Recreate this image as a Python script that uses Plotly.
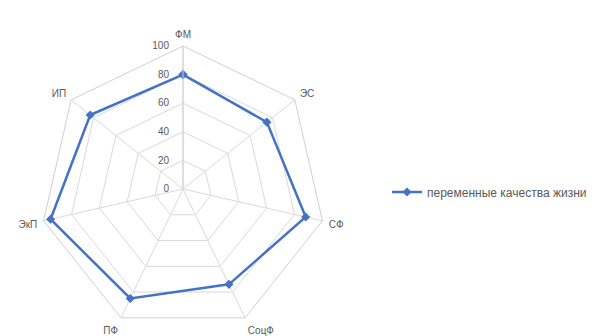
import plotly.graph_objects as go

# Quality-of-life variables and their scores
categories = ["ФМ", "ЭС", "СФ", "СоцФ", "ПФ", "ЭкП", "ИП"]
values = [80, 75, 88, 74, 85, 95, 83]
series_name = "переменные качества жизни"
radial_ticks = [0, 20, 40, 60, 80, 100]

# close the polygon by repeating the first point
theta = categories + categories[:1]
r = values + values[:1]

fig = go.Figure()
fig.add_trace(go.Scatterpolar(
    r=r,
    theta=theta,
    mode="lines+markers",
    name=series_name,
    line=dict(color="#4472C4", width=2.5),
    marker=dict(symbol="diamond", size=7, color="#4472C4"),
    showlegend=True,
))

W, H = 596, 336
fig.update_layout(
    width=W, height=H,
    margin=dict(l=0, r=0, t=0, b=0),
    paper_bgcolor="white",
    plot_bgcolor="white",
    font=dict(family="Liberation Sans, Arial, sans-serif", size=9, color="#595959"),
    polar=dict(
        domain=dict(x=[40 / W, 326 / W], y=[4 / H, 290 / H]),
        bgcolor="white",
        gridshape="linear",
        radialaxis=dict(
            range=[0, 100],
            tickvals=radial_ticks,
            angle=90,
            tickangle=90,
            side="counterclockwise",
            showline=True,
            linecolor="#d0d0d0",
            linewidth=1,
            gridcolor="#d9d9d9",
            ticks="outside",
            ticklen=10,
            tickcolor="rgba(0,0,0,0)",
            tickfont=dict(size=10, color="#595959"),
        ),
        angularaxis=dict(
            direction="clockwise",
            rotation=90,
            showline=True,
            linecolor="#d0d0d0",
            gridcolor="#d9d9d9",
            ticks="outside",
            ticklen=4,
            tickcolor="rgba(0,0,0,0)",
            tickfont=dict(size=10, color="#595959"),
        ),
    ),
    legend=dict(
        x=387 / W, y=1 - 192 / H,
        xanchor="left", yanchor="middle",
        font=dict(size=12, color="#595959"),
        bgcolor="rgba(0,0,0,0)",
    ),
)

fig.write_html("out.html")
